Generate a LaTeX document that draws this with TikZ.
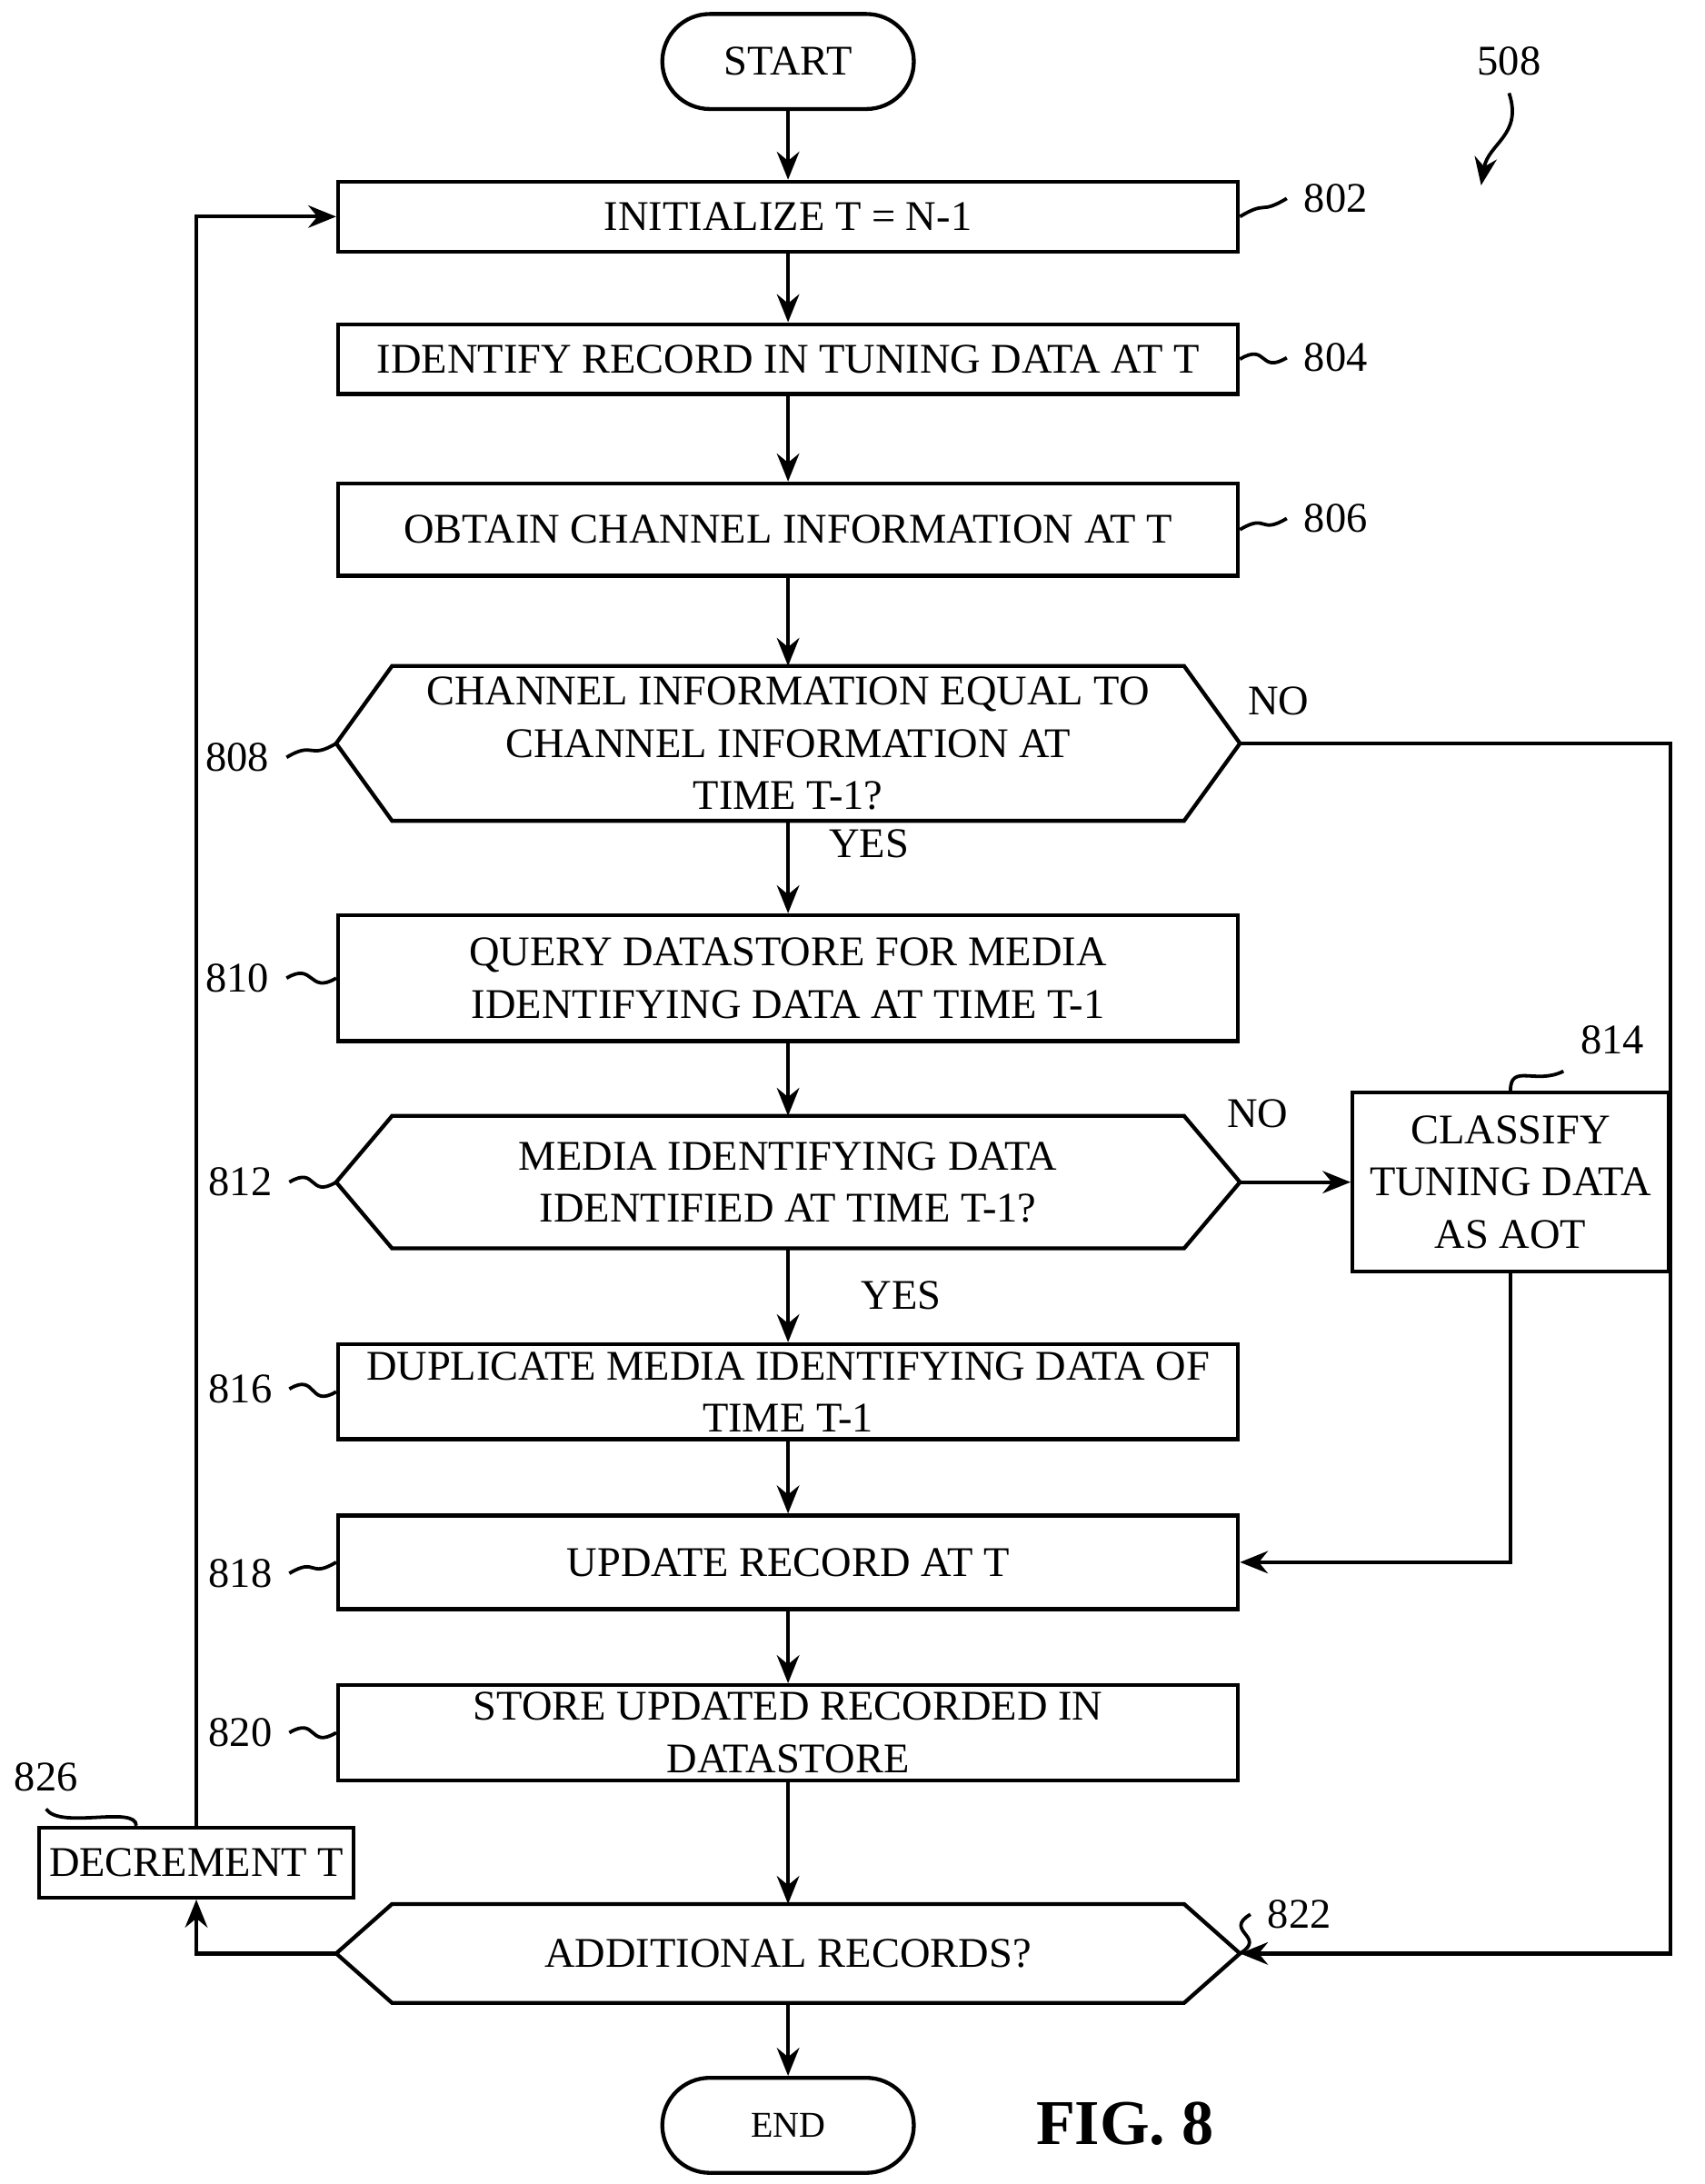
\documentclass[tikz,border=0pt]{standalone}
\usepackage{fontspec}
\setmainfont{Liberation Serif}
\usetikzlibrary{arrows.meta,calc}

\tikzset{
  box/.style={draw,line width=0.8pt,minimum width=6.44cm,align=center,inner sep=0pt,
              font=\fontsize{8.6}{10.6}\selectfont},
  term/.style={draw,line width=0.8pt,rounded corners=0.34cm,minimum width=1.8cm,minimum height=0.68cm,
               font=\fontsize{8.6}{10.6}\selectfont},
  lbl/.style={font=\fontsize{8.6}{10.6}\selectfont},
  flow/.style={line width=0.8pt,-{Stealth[length=2mm,width=1.6mm]}},
}
\newcommand{\hexbox}[1]{%
  \draw[line width=0.8pt] ([xshift=4mm]#1.north west) -- (#1.west) -- ([xshift=4mm]#1.south west)
    -- ([xshift=-4mm]#1.south east) -- (#1.east) -- ([xshift=-4mm]#1.north east) -- cycle;}
\newcommand{\squigR}[2]{% box east -> label
  \draw[line width=0.7pt] (#1) .. controls +(0.2,0.12) and +(-0.2,-0.12) .. (#2);}

\begin{document}
\begin{tikzpicture}
  \useasboundingbox (0,0) rectangle (12.2,-15.63);

  % steps
  \node[term] (start) at (5.64,-0.44) {START};
  \node[box,minimum height=0.5cm]  (init)  at (5.64,-1.55) {INITIALIZE T = N-1};
  \node[box,minimum height=0.5cm]  (ident) at (5.64,-2.57) {IDENTIFY RECORD IN TUNING DATA AT T};
  \node[box,minimum height=0.66cm] (chan)  at (5.64,-3.79) {OBTAIN CHANNEL INFORMATION AT T};
  \node[box,draw=none,minimum height=1.08cm] (same) at (5.64,-5.32)
        {CHANNEL INFORMATION EQUAL TO\\CHANNEL INFORMATION AT\\TIME T-1?};
  \node[box,minimum height=0.9cm]  (query) at (5.64,-7.00) {QUERY DATASTORE FOR MEDIA\\IDENTIFYING DATA AT TIME T-1};
  \node[box,draw=none,minimum height=0.92cm] (found) at (5.64,-8.46)
        {MEDIA IDENTIFYING DATA\\IDENTIFIED AT TIME T-1?};
  \node[box,minimum width=2.26cm,minimum height=1.28cm] (aot) at (10.81,-8.46)
        {CLASSIFY\\TUNING DATA\\AS AOT};
  \node[box,minimum height=0.68cm] (dup)   at (5.64,-9.96) {DUPLICATE MEDIA IDENTIFYING DATA OF\\TIME T-1};
  \node[box,minimum height=0.67cm] (upd)   at (5.64,-11.18) {UPDATE RECORD AT T};
  \node[box,minimum height=0.68cm] (store) at (5.64,-12.40) {STORE UPDATED RECORDED IN\\DATASTORE};
  \node[box,draw=none,minimum height=0.68cm] (more) at (5.64,-13.98) {ADDITIONAL RECORDS?};
  \node[term] (end) at (5.64,-15.21) {\fontsize{7.4}{9}\selectfont END};
  \node[box,minimum width=2.25cm,minimum height=0.5cm] (decr) at (1.405,-13.33) {DECREMENT T};
  \hexbox{same}
  \hexbox{found}
  \hexbox{more}

  % connectors
  \draw[flow] (start) -- (init);
  \draw[flow] (init) -- (ident);
  \draw[flow] (ident) -- (chan);
  \draw[flow] (chan) -- (same);
  \draw[flow] (same) -- (query);
  \draw[flow] (query) -- (found);
  \draw[flow] (found) -- (dup);
  \draw[flow] (found) -- (aot);
  \draw[flow] (dup) -- (upd);
  \draw[flow] (upd) -- (store);
  \draw[flow] (store) -- (more);
  \draw[flow] (more) -- (end);
  \draw[flow] (same.east) -- ++(3.08,0) |- (more.east);
  \draw[flow] (aot.south) |- (upd.east);
  \draw[flow] (more.west) -| (decr.south);
  \draw[flow] (decr.north) |- (init.west);

  % branch labels
  \node[lbl] (no1)  at (9.15,-5.02) {NO};
  \node[lbl] (yes1) at (6.22,-6.04) {YES};
  \node[lbl] (no2)  at (9.00,-7.97) {NO};
  \node[lbl] (yes2) at (6.45,-9.27) {YES};

  % reference numerals
  \node[lbl] (n802) at (9.56,-1.42) {802};
  \node[lbl] (n804) at (9.56,-2.56) {804};
  \node[lbl] (n806) at (9.56,-3.71) {806};
  \node[lbl] (n808) at (1.70,-5.42) {808};
  \node[lbl] (n810) at (1.70,-7.00) {810};
  \node[lbl] (n812) at (1.72,-8.46) {812};
  \node[lbl] (n814) at (11.54,-7.44) {814};
  \node[lbl] (n816) at (1.72,-9.94) {816};
  \node[lbl] (n818) at (1.72,-11.26) {818};
  \node[lbl] (n820) at (1.72,-12.40) {820};
  \node[lbl] (n822) at (9.30,-13.70) {822};
  \node[lbl] (n826) at (0.33,-12.72) {826};
  \node[lbl] (n508) at (10.80,-0.44) {508};
  \squigR{init.east}{n802.west}
  \squigR{ident.east}{n804.west}
  \squigR{chan.east}{n806.west}
  \squigR{n808.east}{same.west}
  \squigR{n810.east}{query.west}
  \squigR{n812.east}{found.west}
  \squigR{n816.east}{dup.west}
  \squigR{n818.east}{upd.west}
  \squigR{n820.east}{store.west}
  \squigR{more.east}{n822.west}
  \draw[line width=0.7pt] (aot.north) .. controls +(0,0.2) and +(-0.2,-0.1) .. (n814.south west);
  \draw[line width=0.7pt] (n826.south) .. controls +(0.1,-0.15) and +(0,0.15) .. ([xshift=-4.3mm]decr.north);
  \draw[line width=0.7pt,-{Stealth[length=2mm,width=1.6mm]}] (n508.south) .. controls +(0.1,-0.3) and +(0.05,0.3) .. ++(-0.2,-0.66);

  \node[font=\bfseries\fontsize{13}{15}\selectfont] (fig) at (8.05,-15.20) {FIG. 8};
\end{tikzpicture}
\end{document}
